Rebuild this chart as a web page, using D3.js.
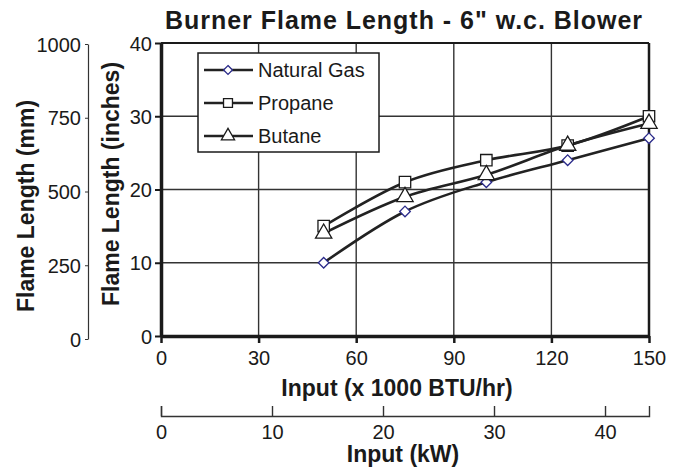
<!DOCTYPE html>
<html>
<head>
<meta charset="utf-8">
<script src="https://cdn.jsdelivr.net/npm/d3@7"></script>
<style>
  body { margin: 0; background: #fff; }
  text { font-family: "Liberation Sans", Arial, sans-serif; fill: #1a1a1a; }
  .tick text { font-size: 20px; }
  .bold { font-weight: bold; }
</style>
</head>
<body>
<div id="chart"></div>
<script>
// data
var inputBtu = [50, 75, 100, 125, 150];
var naturalGas = [10, 17, 21, 24, 27];
var propane = [15, 21, 24, 26, 30];
var butane = [14, 19, 22, 26, 29];
var seriesNames = ["Natural Gas", "Propane", "Butane"];
var btuTicks = [0, 30, 60, 90, 120, 150];
var kwTicks = [0, 10, 20, 30, 40];
var inchTicks = [0, 10, 20, 30, 40];
var mmTicks = [0, 250, 500, 750, 1000];

var width = 676, height = 474;
var plot = { left: 161, right: 649, top: 43, bottom: 336 };

var svg = d3.select('#chart').append('svg')
  .attr('width', width)
  .attr('height', height);

var x = d3.scaleLinear().domain([0, 150]).range([plot.left, plot.right]);
var y = d3.scaleLinear().domain([0, 40]).range([plot.bottom, plot.top]);
var xKw = d3.scaleLinear().domain([0, 150 / 3.412]).range([plot.left, plot.right]);
var yMm = d3.scaleLinear().domain([0, 1000]).range([339, 44]);

// grid
var grid = svg.append('g');
grid.selectAll('.vg').data(btuTicks.slice(1, -1)).enter().append('line')
  .attr('x1', function(d){ return x(d); }).attr('x2', function(d){ return x(d); })
  .attr('y1', plot.top).attr('y2', plot.bottom)
  .attr('stroke', '#333').attr('stroke-width', 1.4);
grid.selectAll('.hg').data(inchTicks.slice(1, -1)).enter().append('line')
  .attr('y1', function(d){ return y(d); }).attr('y2', function(d){ return y(d); })
  .attr('x1', plot.left).attr('x2', plot.right)
  .attr('stroke', '#333').attr('stroke-width', 1.4);

// frame top and right
svg.append('line').attr('x1', plot.left).attr('x2', plot.right)
  .attr('y1', plot.top).attr('y2', plot.top)
  .attr('stroke', '#1a1a1a').attr('stroke-width', 2);
svg.append('line').attr('x1', plot.right).attr('x2', plot.right)
  .attr('y1', plot.top).attr('y2', plot.bottom)
  .attr('stroke', '#1a1a1a').attr('stroke-width', 2.5);

// axes
var xAxis = d3.axisBottom(x).tickValues(btuTicks).tickSizeInner(7).tickSizeOuter(0).tickPadding(8);
var axisX = svg.append('g').attr('transform', 'translate(0,' + plot.bottom + ')').call(xAxis);
axisX.select('.domain').attr('stroke', '#1a1a1a').attr('stroke-width', 3.5);
axisX.selectAll('.tick line').attr('stroke', '#1a1a1a').attr('stroke-width', 2.5);

var yAxis = d3.axisLeft(y).tickValues(inchTicks).tickSizeInner(6).tickSizeOuter(0).tickPadding(3);
var axisY = svg.append('g').attr('transform', 'translate(' + plot.left + ',0)').call(yAxis);
axisY.select('.domain').attr('stroke', '#1a1a1a').attr('stroke-width', 3.5);
axisY.selectAll('.tick line').attr('stroke', '#1a1a1a').attr('stroke-width', 2);
axisY.selectAll('.tick text').attr('dy', '0.36em');

var kwAxis = d3.axisTop(xKw).tickValues(kwTicks).tickSizeInner(10).tickSizeOuter(10);
var axisKw = svg.append('g').attr('transform', 'translate(0,416)').call(kwAxis);
axisKw.select('.domain').attr('stroke', '#333').attr('stroke-width', 1.4);
axisKw.selectAll('.tick line').attr('stroke', '#333').attr('stroke-width', 1.4);
axisKw.selectAll('.tick text').attr('y', 23).attr('dy', 0);

var mmAxis = d3.axisLeft(yMm).tickValues(mmTicks).tickFormat(d3.format('d'))
  .tickSizeInner(3).tickSizeOuter(0).tickPadding(4);
var axisMm = svg.append('g').attr('transform', 'translate(88,0)').call(mmAxis);
axisMm.select('.domain').attr('stroke', '#333').attr('stroke-width', 1.2);
axisMm.selectAll('.tick line').attr('stroke', '#333');
axisMm.selectAll('.tick text').attr('dy', '0.36em');

// titles
svg.append('text').attr('class', 'bold').attr('x', 165).attr('y', 29)
  .attr('textLength', 477).attr('lengthAdjust', 'spacing')
  .style('font-size', '25px').text('Burner Flame Length - 6" w.c. Blower');
svg.append('text').attr('class', 'bold').attr('x', 397).attr('y', 396)
  .attr('text-anchor', 'middle').style('font-size', '23px')
  .text('Input (x 1000 BTU/hr)');
svg.append('text').attr('class', 'bold').attr('x', 403).attr('y', 462)
  .attr('text-anchor', 'middle').style('font-size', '23px')
  .text('Input (kW)');
svg.append('text').attr('class', 'bold')
  .attr('transform', 'translate(34,206) rotate(-90)')
  .attr('text-anchor', 'middle').style('font-size', '23px')
  .text('Flame Length (mm)');
svg.append('text').attr('class', 'bold')
  .attr('transform', 'translate(119,184) rotate(-90)')
  .attr('text-anchor', 'middle').style('font-size', '23px')
  .text('Flame Length (inches)');

// series
var series = [naturalGas, propane, butane].map(function(vals, i){
  return { name: seriesNames[i], points: inputBtu.map(function(b, j){ return { x: b, y: vals[j] }; }) };
});
var symbols = [d3.symbolDiamond2, d3.symbolSquare, d3.symbolTriangle];
var symbolSize = [72, 130, 115];
var symbolStroke = ['#2a2a8a', '#1a1a1a', '#1a1a1a'];

var smoothLine = d3.line().curve(d3.curveCatmullRom.alpha(0))
  .x(function(d){ return x(d.x); })
  .y(function(d){ return y(d.y); });

var plotGroup = svg.append('g');
plotGroup.selectAll('path.line').data(series).enter().append('path')
  .attr('class', 'line')
  .attr('d', function(d){ return smoothLine(d.points); })
  .attr('fill', 'none').attr('stroke', '#222').attr('stroke-width', 2.6);

series.forEach(function(s, i){
  plotGroup.selectAll('.m' + i).data(s.points).enter().append('path')
    .attr('class', 'm' + i)
    .attr('transform', function(d){ return 'translate(' + x(d.x) + ',' + y(d.y) + ')'; })
    .attr('d', d3.symbol().type(symbols[i]).size(symbolSize[i]))
    .attr('fill', '#fff').attr('stroke', symbolStroke[i]).attr('stroke-width', 1.3);
});

// legend
var legend = svg.append('g');
legend.append('rect').attr('x', 198).attr('y', 53).attr('width', 181).attr('height', 99)
  .attr('fill', '#fff').attr('stroke', '#1a1a1a').attr('stroke-width', 1.5);
var rowY = [70, 103, 136];
var legendSize = [50, 80, 75];
series.forEach(function(s, i){
  legend.append('line').attr('x1', 204).attr('x2', 253)
    .attr('y1', rowY[i]).attr('y2', rowY[i])
    .attr('stroke', '#222').attr('stroke-width', 2.6);
  legend.append('path').attr('transform', 'translate(228,' + rowY[i] + ')')
    .attr('d', d3.symbol().type(symbols[i]).size(legendSize[i]))
    .attr('fill', '#fff').attr('stroke', symbolStroke[i]).attr('stroke-width', 1.3);
  legend.append('text').attr('x', 258).attr('y', rowY[i] + 7)
    .style('font-size', '20px').text(s.name);
});
</script>
</body>
</html>
